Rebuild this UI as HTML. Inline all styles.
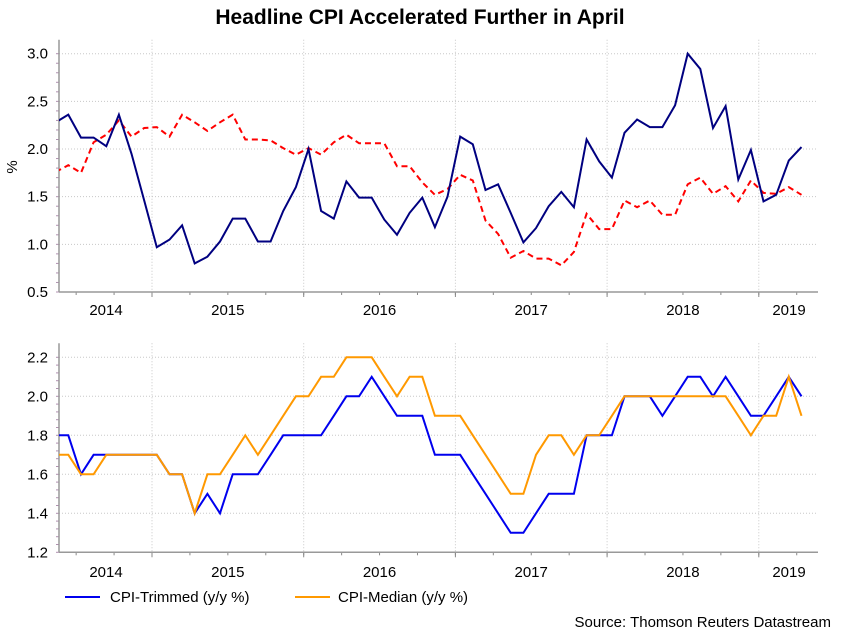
<!DOCTYPE html>
<html><head><meta charset="utf-8"><style>
body{margin:0;background:#fff;}
svg text{font-family:"Liberation Sans",Arial,sans-serif;}
</style></head><body>
<svg id="c" width="841" height="631" xmlns="http://www.w3.org/2000/svg">
<text x="420" y="24" text-anchor="middle" font-size="21" font-weight="bold" fill="#000">Headline CPI Accelerated Further in April</text>
<text x="17" y="167" font-size="15" text-anchor="middle" transform="rotate(-90 17 167)">%</text>
<defs>
<clipPath id="clipTop"><rect x="59" y="40" width="759" height="253"/></clipPath>
<clipPath id="clipBot"><rect x="59" y="345" width="759" height="208"/></clipPath>
</defs>
<g id="top"></g>
<g id="bot"></g>
<g>
<line x1="65" y1="597" x2="100" y2="597" stroke="#0000ee" stroke-width="2"/>
<text x="110" y="602" font-size="15">CPI-Trimmed (y/y %)</text>
<line x1="295" y1="597" x2="330" y2="597" stroke="#ff9900" stroke-width="2"/>
<text x="338" y="602" font-size="15">CPI-Median (y/y %)</text>
</g>
<text x="831" y="627" font-size="15" text-anchor="end">Source: Thomson Reuters Datastream</text>
</svg>
<script>
const years = ["2014","2015","2016","2017","2018","2019"];
const headline = [2.28,2.36,2.12,2.12,2.03,2.36,1.95,1.46,0.97,1.05,1.20,0.80,0.87,1.03,1.27,1.27,1.03,1.03,1.35,1.60,2.00,1.35,1.27,1.66,1.49,1.49,1.26,1.10,1.33,1.49,1.18,1.50,2.13,2.05,1.57,1.63,1.33,1.02,1.17,1.40,1.55,1.39,2.10,1.87,1.70,2.17,2.31,2.23,2.23,2.46,3.00,2.84,2.22,2.45,1.68,1.99,1.45,1.52,1.88,2.02];
const core = [1.76,1.83,1.75,2.07,2.15,2.30,2.13,2.22,2.23,2.13,2.36,2.28,2.19,2.28,2.36,2.10,2.10,2.09,2.01,1.94,2.01,1.94,2.07,2.15,2.06,2.06,2.06,1.82,1.82,1.65,1.52,1.58,1.73,1.67,1.25,1.11,0.86,0.93,0.85,0.85,0.78,0.92,1.32,1.16,1.16,1.46,1.39,1.46,1.31,1.31,1.63,1.70,1.53,1.61,1.45,1.67,1.54,1.53,1.60,1.52];
const trimmed = [1.8,1.8,1.6,1.7,1.7,1.7,1.7,1.7,1.7,1.6,1.6,1.4,1.5,1.4,1.6,1.6,1.6,1.7,1.8,1.8,1.8,1.8,1.9,2.0,2.0,2.1,2.0,1.9,1.9,1.9,1.7,1.7,1.7,1.6,1.5,1.4,1.3,1.3,1.4,1.5,1.5,1.5,1.8,1.8,1.8,2.0,2.0,2.0,1.9,2.0,2.1,2.1,2.0,2.1,2.0,1.9,1.9,2.0,2.1,2.0];
const median = [1.7,1.7,1.6,1.6,1.7,1.7,1.7,1.7,1.7,1.6,1.6,1.4,1.6,1.6,1.7,1.8,1.7,1.8,1.9,2.0,2.0,2.1,2.1,2.2,2.2,2.2,2.1,2.0,2.1,2.1,1.9,1.9,1.9,1.8,1.7,1.6,1.5,1.5,1.7,1.8,1.8,1.7,1.8,1.8,1.9,2.0,2.0,2.0,2.0,2.0,2.0,2.0,2.0,2.0,1.9,1.8,1.9,1.9,2.1,1.9];
const topTicks = ["0.5","1.0","1.5","2.0","2.5","3.0"];
const botTicks = ["1.2","1.4","1.6","1.8","2.0","2.2"];

const NS="http://www.w3.org/2000/svg";
const L=59,R=818;
const xi = i => 55.7 + 12.64*i;
const yearX = k => 152 + 151.7*(k-1);
function mk(tag, attrs, parent){const e=document.createElementNS(NS,tag);for(const k in attrs)e.setAttribute(k,attrs[k]);parent.appendChild(e);return e;}

function panel(g, top, bottom, vmin, vmax, ticks, series, clip, labelY){
  const y = v => bottom - (v - vmin)/(vmax - vmin)*(bottom - top);
  // grid
  ticks.forEach(t=>{
    const v=parseFloat(t), yy=y(v);
    if(v>vmin){const gl=mk('line',{x1:L,x2:R,y1:yy,y2:yy,stroke:'#c8c8c8','stroke-dasharray':'1,2'},g);
    
    }
    const tx=mk('text',{x:48,y:yy+5,'font-size':15,'text-anchor':'end'},g);
    tx.textContent=t;
    
    
  });
  // minor y ticks
  const step=(vmax-vmin)/25;
  for(let k=0;k<=25;k++){const yy=bottom-k*(bottom-top)/25;
    const m=mk('line',{x1:L-3,x2:L,y1:yy,y2:yy,stroke:'#b090b0'},g);
    
    }
  // year grid & labels
  for(let k=1;k<years.length;k++){
    const xx=yearX(k);
    const vg=mk('line',{x1:xx,x2:xx,y1:top-14,y2:bottom,stroke:'#c8c8c8','stroke-dasharray':'1,2'},g);
    
    
    const tk=mk('line',{x1:xx,x2:xx,y1:bottom,y2:bottom+5,stroke:'#888'},g);
    
    
  }
  for(let q=-2;q<22;q++){const xx=152+q*151.7/4; if(xx<L||xx>R)continue;
    const mt=mk('line',{x1:xx,x2:xx,y1:bottom,y2:bottom+3,stroke:'#888'},g);
    
    }
  years.forEach((yr,k)=>{
    const xx = k===0 ? 106 : (k===years.length-1 ? 789 : yearX(k)+75.8);
    const t=mk('text',{x:xx,y:labelY,'font-size':15,'text-anchor':'middle'},g);
    t.textContent=yr;
    
    
  });
  // axes
  const ax=mk('line',{x1:L,x2:L,y1:top-14,y2:bottom,stroke:'#999','stroke-width':1.5},g);
  
  
  const bx=mk('line',{x1:L,x2:R,y1:bottom,y2:bottom,stroke:'#999','stroke-width':1.5},g);
  
  
  series.forEach(s=>{
    const d=s.data.map((v,i)=>(i?'L':'M')+xi(i).toFixed(1)+','+y(v).toFixed(1)).join(' ');
    const p=mk('path',{d:d,fill:'none',stroke:s.color,'stroke-width':2,'clip-path':'url(#'+clip+')','stroke-linejoin':'miter'},g);
    if(s.dash)p.setAttribute('stroke-dasharray',s.dash);
    
    
  });
}
panel(document.getElementById('top'),53.7,292,0.5,3.0,topTicks,[
  {data:core,color:'#ff0000',dash:'6,4',name:'core-cpi-line'},
  {data:headline,color:'#000080',name:'headline-cpi-line'}],'clipTop',315);
panel(document.getElementById('bot'),357.3,552.3,1.2,2.2,botTicks,[
  {data:trimmed,color:'#0000ee',name:'cpi-trimmed-line'},
  {data:median,color:'#ff9900',name:'cpi-median-line'}],'clipBot',577);
</script>
</body></html>
